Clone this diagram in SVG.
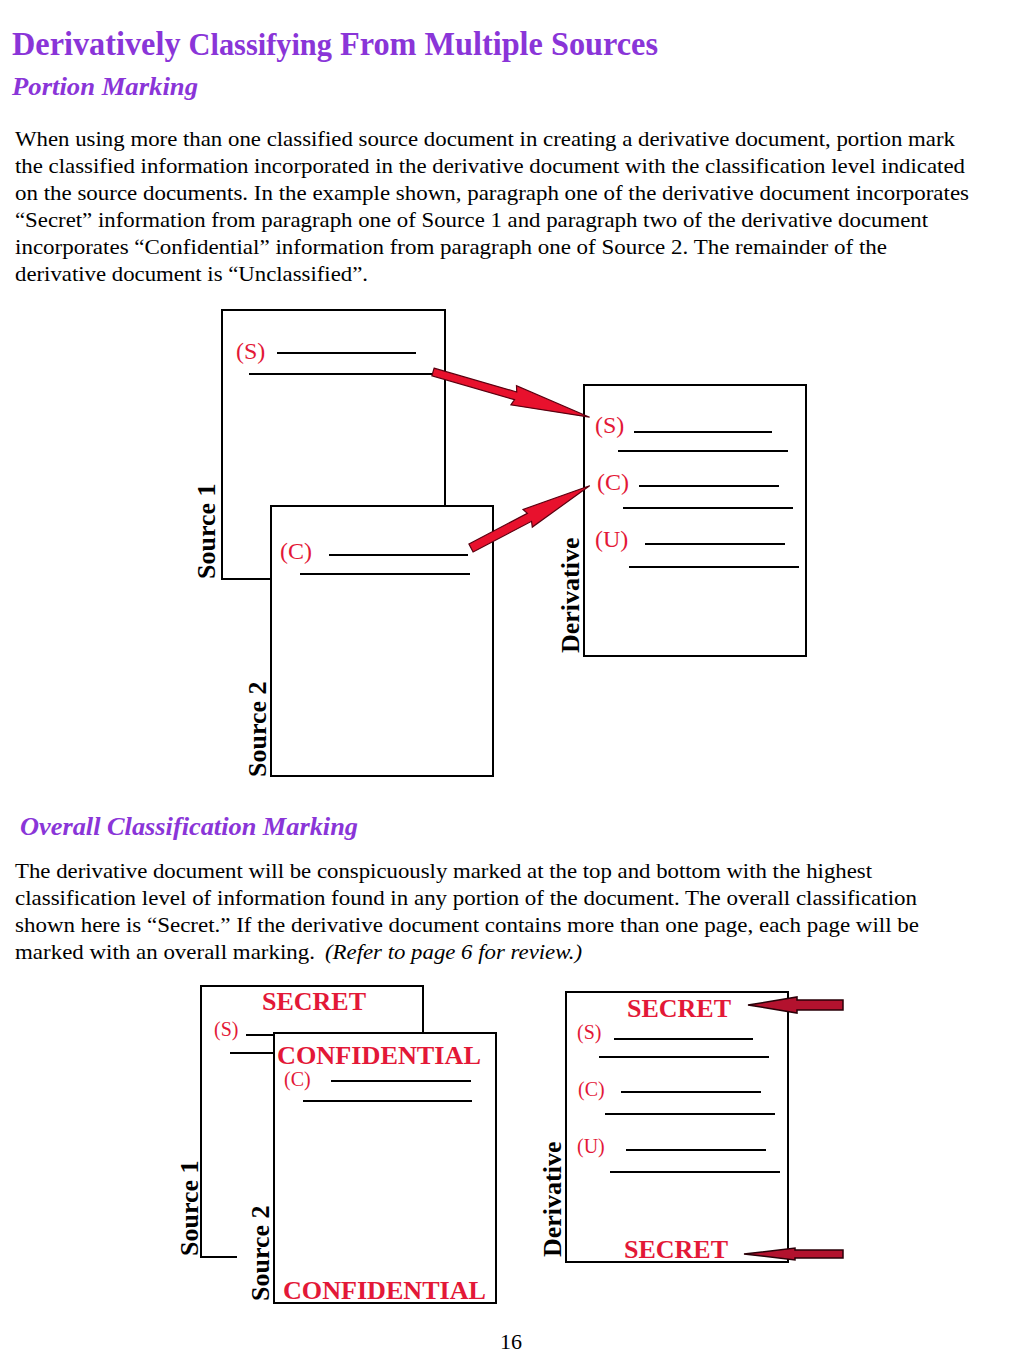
<svg xmlns="http://www.w3.org/2000/svg" width="1024" height="1365" viewBox="0 0 1024 1365">
<style>
text{font-family:"Liberation Serif","Times New Roman",Times,serif}
.title{font-weight:bold;fill:#8a35d8}
.sub{font-weight:bold;font-style:italic;fill:#8a35d8;font-size:26px}
.body{font-size:21px;fill:#000}
.doc{fill:#fff;stroke:#000;stroke-width:2}
.ln{stroke:#000;stroke-width:2}
.mk{fill:#e31837;font-size:24px}
.mks{fill:#e31837;font-size:20px}
.cls{font-weight:bold;fill:#e31837;font-size:26px}
.lab{font-weight:bold;fill:#000;font-size:26px}
.arr{fill:#e8112d;stroke:#5a0010;stroke-width:1.2}
.arr2{fill:#b3122e;stroke:#2a0008;stroke-width:1.5}
</style>
<rect width="1024" height="1365" fill="#fff"/>
<text class="title" x="12" y="55" font-size="33" textLength="646" lengthAdjust="spacingAndGlyphs">Derivatively <tspan font-size="31">Classifying</tspan> From Multiple Sources</text>
<text class="sub" x="12" y="95" textLength="186" lengthAdjust="spacingAndGlyphs">Portion Marking</text>
<g class="body">
<text class="body" x="15" y="146" textLength="940" lengthAdjust="spacingAndGlyphs">When using more than one classified source document in creating a derivative document, portion mark</text>
<text class="body" x="15" y="173" textLength="950" lengthAdjust="spacingAndGlyphs">the classified information incorporated in the derivative document with the classification level indicated</text>
<text class="body" x="15" y="200" textLength="954" lengthAdjust="spacingAndGlyphs">on the source documents.  In the example shown, paragraph one of the derivative document incorporates</text>
<text class="body" x="15" y="227" textLength="913" lengthAdjust="spacingAndGlyphs">“Secret” information from paragraph one of Source 1 and paragraph two of the derivative document</text>
<text class="body" x="15" y="254" textLength="872" lengthAdjust="spacingAndGlyphs">incorporates “Confidential” information from paragraph one of Source 2.  The remainder of the</text>
<text class="body" x="15" y="281" textLength="353" lengthAdjust="spacingAndGlyphs">derivative document is “Unclassified”.</text>
</g>
<g id="d1-source1">
<rect class="doc" x="222" y="310" width="223" height="269"/>
<text class="mk" x="236" y="359">(S)</text>
<line class="ln" x1="277" y1="353" x2="416" y2="353"/>
<line class="ln" x1="249" y1="374" x2="436" y2="374"/>
<text class="lab" transform="translate(215,579) rotate(-90)">Source 1</text>
</g>
<g id="d1-source2">
<rect class="doc" x="271" y="506" width="222" height="270"/>
<text class="mk" x="280" y="559">(C)</text>
<line class="ln" x1="329" y1="555" x2="468" y2="555"/>
<line class="ln" x1="300" y1="574" x2="470" y2="574"/>
<text class="lab" transform="translate(266,777) rotate(-90)">Source 2</text>
</g>
<g id="d1-derivative">
<rect class="doc" x="584" y="385" width="222" height="271"/>
<text class="mk" x="595" y="433">(S)</text>
<line class="ln" x1="634" y1="432" x2="772" y2="432"/>
<line class="ln" x1="618" y1="451" x2="788" y2="451"/>
<text class="mk" x="597" y="490">(C)</text>
<line class="ln" x1="639" y1="486" x2="779" y2="486"/>
<line class="ln" x1="623" y1="508" x2="793" y2="508"/>
<text class="mk" x="595" y="547">(U)</text>
<line class="ln" x1="645" y1="544" x2="785" y2="544"/>
<line class="ln" x1="629" y1="567" x2="799" y2="567"/>
<text class="lab" transform="translate(579,653) rotate(-90)">Derivative</text>
</g>
<text class="sub" x="20" y="835" textLength="338" lengthAdjust="spacingAndGlyphs">Overall Classification Marking</text>
<g class="body">
<text class="body" x="15" y="878" textLength="857" lengthAdjust="spacingAndGlyphs">The derivative document will be conspicuously marked at the top and bottom with the highest</text>
<text class="body" x="15" y="905" textLength="902" lengthAdjust="spacingAndGlyphs">classification level of information found in any portion of the document.  The overall classification</text>
<text class="body" x="15" y="932" textLength="904" lengthAdjust="spacingAndGlyphs">shown here is “Secret.”  If the derivative document contains more than one page, each page will be</text>
<text class="body" x="15" y="959" textLength="300" lengthAdjust="spacingAndGlyphs">marked with an overall marking.</text>
<text class="body" x="325" y="959" font-style="italic" textLength="257" lengthAdjust="spacingAndGlyphs">(Refer to page 6 for review.)</text>
</g>
<g id="d2-source1">
<path class="doc" d="M237,1257 L201,1257 L201,986 L423,986 L423,1040"/>
<text class="cls" x="314" y="1010" text-anchor="middle">SECRET</text>
<text class="mks" x="214" y="1036">(S)</text>
<line class="ln" x1="246" y1="1035" x2="300" y2="1035"/>
<line class="ln" x1="230" y1="1053" x2="300" y2="1053"/>
<text class="lab" transform="translate(198,1256) rotate(-90)">Source 1</text>
</g>
<g id="d2-source2">
<rect class="doc" x="274" y="1033" width="222" height="270"/>
<text class="cls" x="277" y="1064" textLength="204" lengthAdjust="spacingAndGlyphs">CONFIDENTIAL</text>
<text class="mks" x="284" y="1086">(C)</text>
<line class="ln" x1="331" y1="1081" x2="471" y2="1081"/>
<line class="ln" x1="303" y1="1101" x2="472" y2="1101"/>
<text class="cls" x="283" y="1299" textLength="203" lengthAdjust="spacingAndGlyphs">CONFIDENTIAL</text>
<text class="lab" transform="translate(269,1301) rotate(-90)">Source 2</text>
</g>
<g id="d2-derivative">
<rect class="doc" x="566" y="992" width="222" height="270"/>
<text class="cls" x="679" y="1017" text-anchor="middle">SECRET</text>
<text class="mks" x="577" y="1039">(S)</text>
<line class="ln" x1="614" y1="1039" x2="753" y2="1039"/>
<line class="ln" x1="599" y1="1057" x2="769" y2="1057"/>
<text class="mks" x="578" y="1096">(C)</text>
<line class="ln" x1="621" y1="1092" x2="761" y2="1092"/>
<line class="ln" x1="605" y1="1114" x2="775" y2="1114"/>
<text class="mks" x="577" y="1153">(U)</text>
<line class="ln" x1="626" y1="1150" x2="766" y2="1150"/>
<line class="ln" x1="610" y1="1172" x2="780" y2="1172"/>
<text class="cls" x="676" y="1258" text-anchor="middle">SECRET</text>
<text class="lab" transform="translate(561,1257) rotate(-90)">Derivative</text>
</g>
<g id="connectors">
<path class="arr" transform="translate(433,372) rotate(16.1)" d="M0,-4 L86,-4 L84,-10 L163,0 L84,10 L86,4 L0,4 Z"/>
<path class="arr" transform="translate(471,548) rotate(-27.7)" d="M0,-4.5 L66,-4.5 L64,-10 L134,0 L64,10 L66,4.5 L0,4.5 Z"/>
<path class="arr2" d="M748,1005 L797,997 L797,1000 L843,1000 L843,1010 L797,1010 L797,1013 Z"/>
<path class="arr2" d="M744,1254 L795,1248 L795,1250 L843,1250 L843,1258 L795,1258 L795,1260 Z"/>
</g>
<text x="511" y="1349" text-anchor="middle" font-size="22">16</text>
</svg>
